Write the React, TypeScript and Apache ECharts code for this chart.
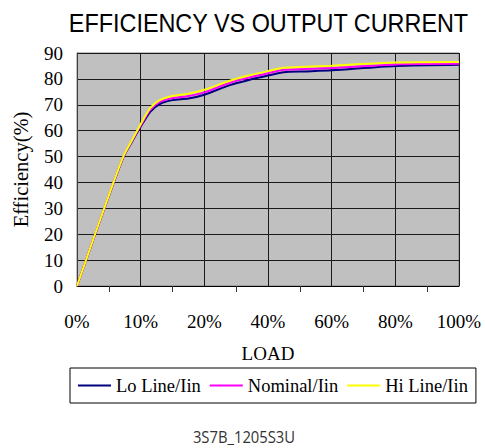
import React, { useEffect, useRef } from "react";
import * as echarts from "echarts";

const xTickLabels = ["0%", "10%", "20%", "40%", "60%", "80%", "100%"];
// load position expressed in x-axis tick-slot units (0..6)
const loadPos = [0, 0.28, 0.57, 0.73, 0.87, 1.0, 1.15, 1.3, 1.5, 1.75, 2.0, 2.4, 2.7, 3.0, 3.25, 3.6, 4.0, 5.0, 6.0];
const loLine = [0, 19.6, 39.5, 49.8, 56, 61.5, 67.3, 70.3, 71.8, 72.4, 73.9, 77.6, 79.6, 81.3, 82.6, 82.9, 83.3, 85.0, 85.5];
const nominal = [0, 19.7, 39.7, 50, 56.3, 62, 68, 71.1, 72.6, 73.4, 74.8, 78.5, 80.5, 82.2, 83.5, 83.8, 84.2, 85.6, 85.8];
const hiLine = [0, 19.8, 39.8, 50.2, 56.6, 62.5, 68.7, 71.8, 73.4, 74.3, 75.8, 79.3, 81.3, 83.0, 84.3, 84.7, 85.1, 86.3, 86.5];
const seriesNames = ["Lo Line/Iin", "Nominal/Iin", "Hi Line/Iin"];
const seriesColors = ["#000080", "#FF00FF", "#FFFF00"];

const SERIF = "'Liberation Serif', 'Times New Roman', serif";
const SANS = "'Liberation Sans', Arial, sans-serif";

export default function App() {
  const ref = useRef<HTMLDivElement>(null);
  useEffect(() => {
    if (!ref.current) return;
    const chart = echarts.init(ref.current, null, { renderer: "svg" });
    const all = [loLine, nominal, hiLine];
    chart.setOption({
      animation: false,
      backgroundColor: "#ffffff",
      graphic: [
        {
          type: "text",
          x: 268.5,
          y: 23,
          scaleX: 0.9,
          style: {
            text: "EFFICIENCY VS OUTPUT CURRENT",
            fontFamily: SANS,
            fontSize: 26,
            fill: "#000",
            align: "center",
            verticalAlign: "middle",
          },
        },
        {
          type: "text",
          x: 244,
          y: 437,
          scaleX: 0.87,
          style: {
            text: "3S7B_1205S3U",
            fontFamily: "'Open Sans', 'Noto Sans', sans-serif",
            fontSize: 17,
            fill: "#333",
            align: "center",
            verticalAlign: "middle",
          },
        },
      ],
      legend: {
        data: seriesNames,
        left: 70,
        top: 368,
        width: 420,
        icon: "rect",
        backgroundColor: "#ffffff",
        borderColor: "#000",
        borderWidth: 1,
        borderRadius: 0,
        padding: [8, 8, 8, 8],
        itemWidth: 33,
        itemHeight: 2,
        itemGap: 9,
        textStyle: { fontFamily: SERIF, fontSize: 18.5, color: "#000" },
      },
      grid: {
        left: 77,
        right: 26,
        top: 53,
        bottom: 162,
        show: true,
        backgroundColor: "#C0C0C0",
        borderColor: "#808080",
        borderWidth: 1,
      },
      xAxis: {
        type: "value",
        min: 0,
        max: 6,
        interval: 1,
        name: "LOAD",
        nameLocation: "middle",
        nameGap: 58,
        nameTextStyle: { fontFamily: SERIF, fontSize: 19, color: "#000" },
        axisLine: { show: true, lineStyle: { color: "#000", width: 1 } },
        axisTick: { show: false },
        minorTick: { show: true, splitNumber: 2, length: 6, lineStyle: { color: "#333", width: 1 } },
        axisLabel: {
          margin: 26,
          fontFamily: SERIF,
          fontSize: 19,
          color: "#000",
          formatter: (v: number) => xTickLabels[Math.round(v)] ?? "",
        },
        splitLine: { show: true, lineStyle: { color: "#1a1a1a", width: 1 } },
      },
      yAxis: {
        type: "value",
        min: 0,
        max: 90,
        interval: 10,
        name: "Efficiency(%)",
        nameLocation: "middle",
        nameGap: 46,
        nameTextStyle: { fontFamily: SERIF, fontSize: 20.5, color: "#000" },
        axisLine: { show: true, lineStyle: { color: "#404040", width: 1 } },
        axisTick: { show: false },
        axisLabel: { margin: 14, fontFamily: SERIF, fontSize: 19, color: "#000" },
        splitLine: { show: true, lineStyle: { color: "#1a1a1a", width: 1 } },
      },
      series: seriesNames.map((name, i) => ({
        name,
        type: "line",
        symbol: "none",
        smooth: 0.25,
        color: seriesColors[i],
        lineStyle: { width: 2, color: seriesColors[i] },
        data: loadPos.map((x, k) => [x, all[i][k]]),
      })),
    });
    return () => chart.dispose();
  }, []);
  return <div ref={ref} style={{ width: 485, height: 448, position: "absolute", left: 0, top: 0 }} />;
}
